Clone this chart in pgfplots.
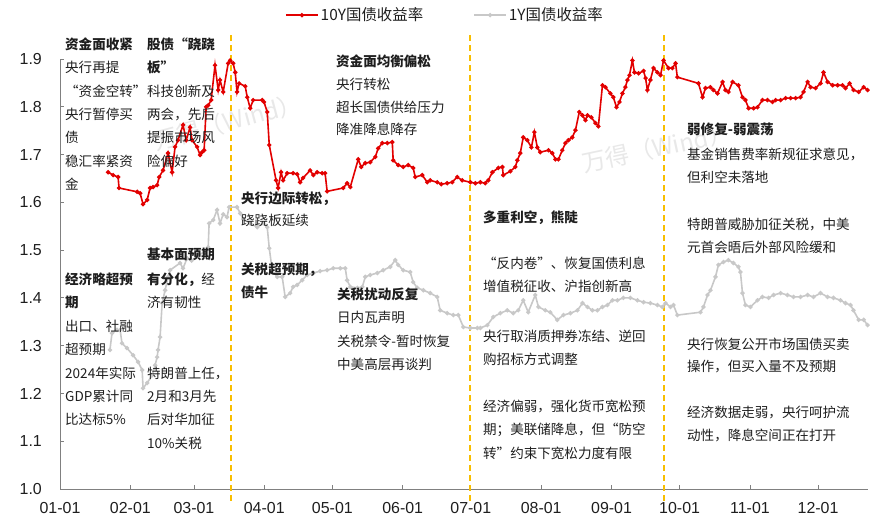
\documentclass[border=0pt]{standalone}
\usepackage{fontspec}
\setmainfont{Noto Sans CJK SC}
\newfontfamily\arial{Liberation Sans}
\usepackage{pgfplots}
\pgfplotsset{compat=1.18}

\definecolor{ten}{RGB}{226,0,0}
\definecolor{one}{RGB}{200,200,200}
\definecolor{dashc}{RGB}{248,190,0}
\definecolor{axgray}{RGB}{128,128,128}
\definecolor{txt}{RGB}{30,30,30}

\newcommand\af{\fontsize{13.6}{23.3}\selectfont}
% one line of annotation, x and vertical centre in image pixels
\newcommand\ann[3]{\node[anchor=base west, inner sep=0pt, text=txt, font=\af] at (#1,#2+5) {#3};}

\begin{document}
\begin{tikzpicture}
\path[use as bounding box] (0,0) rectangle (879bp,519bp);

% watermark
\begin{scope}[shift={(0,519bp)}, x=1bp, y=-1bp]
\node[rotate=15, text=black!9, font=\fontsize{24}{24}\selectfont] at (228,122) {万得（Wind）};
\node[rotate=12, text=black!9, font=\fontsize{24}{24}\selectfont] at (657,148) {万得（Wind）};
\end{scope}

\begin{axis}[
  at={(60bp,30bp)}, anchor=south west,
  width=808bp, height=430bp, scale only axis,
  xmin=0, xmax=356, ymin=1.0, ymax=1.9,
  axis x line*=bottom, axis y line*=left,
  axis line style={axgray, line width=0.8bp, -},
  xtick={0,31,59,90,120,151,181,212,243,273,304,334},
  xticklabels={01-01,02-01,03-01,04-01,05-01,06-01,07-01,08-01,09-01,10-01,11-01,12-01},
  ytick={1.0,1.1,1.2,1.3,1.4,1.5,1.6,1.7,1.8,1.9},
  tick align=inside, major tick length=4bp,
  tick style={axgray, line width=0.8bp},
  /pgf/number format/assume math mode=true,
  tick label style={font=\arial\fontsize{16}{18}\selectfont, text=txt},
  yticklabel style={/pgf/number format/fixed, /pgf/number format/fixed zerofill, /pgf/number format/precision=1},
  yticklabel style={inner sep=0pt, anchor=east, xshift=-18bp},
  xticklabel style={inner sep=0pt, anchor=north, yshift=-13bp},
  clip=false,
  legend style={at={(0.4765,1.102)}, anchor=center, draw=none, fill=none,
    font=\fontsize{15.5}{18}\selectfont, text=txt,
    nodes={inner sep=2bp},
    /tikz/every even column/.append style={column sep=48bp}},
  legend columns=2,
  legend image code/.code={\draw[mark repeat=2, mark phase=2, #1] plot coordinates {(0bp,0bp) (16bp,0bp) (32bp,0bp)};},
]

% period boundaries
\addplot[forget plot, no marks, draw=dashc, line width=2bp, dash pattern=on 6bp off 4bp] coordinates {(75.34,0.975) (75.34,1.955)};
\addplot[forget plot, no marks, draw=dashc, line width=2bp, dash pattern=on 6bp off 4bp] coordinates {(180.64,0.975) (180.64,1.955)};
\addplot[forget plot, no marks, draw=dashc, line width=2bp, dash pattern=on 6bp off 4bp] coordinates {(266.12,0.975) (266.12,1.955)};

\addplot[ten, line width=1.6bp, mark=*, mark size=1.3bp] coordinates {
(21.2,1.663) (23.4,1.657) (25.6,1.653) (26.0,1.630) (34.0,1.622) (35.3,1.619)
(36.6,1.596) (38.4,1.605) (39.7,1.630) (41.0,1.632) (42.8,1.636) (43.7,1.653)
(45.4,1.667) (47.6,1.703) (49.4,1.663) (50.7,1.716) (52.0,1.730) (54.2,1.762)
(55.6,1.730) (57.3,1.757) (58.2,1.730) (60.4,1.716) (61.7,1.699) (62.6,1.705)
(63.5,1.709) (64.4,1.800) (65.3,1.803) (66.6,1.814) (68.3,1.887) (69.7,1.835)
(70.5,1.856) (71.9,1.831) (74.1,1.891) (75.0,1.897) (76.3,1.891) (77.2,1.872)
(78.0,1.831) (78.9,1.849) (81.6,1.843) (82.5,1.820) (83.8,1.797) (85.1,1.814)
(89.1,1.814) (89.9,1.810) (91.3,1.789) (92.2,1.720) (95.2,1.646) (96.1,1.630)
(97.4,1.663) (98.3,1.646) (100.1,1.661) (102.7,1.661) (104.5,1.659) (105.8,1.642)
(107.1,1.651) (110.2,1.667) (111.6,1.657) (113.3,1.663) (115.5,1.661) (116.8,1.661)
(117.7,1.623) (124.8,1.630) (126.5,1.640) (127.9,1.632) (131.4,1.690) (132.7,1.674)
(134.5,1.682) (136.7,1.684) (138.9,1.695) (140.2,1.713) (142.0,1.724) (144.2,1.724)
(146.4,1.726) (146.8,1.688) (149.0,1.678) (151.2,1.674) (153.4,1.678) (155.6,1.672)
(156.5,1.653) (159.6,1.657) (161.8,1.642) (163.1,1.646) (166.2,1.642) (168.0,1.638)
(170.6,1.640) (172.8,1.642) (175.0,1.653) (177.2,1.646) (180.8,1.642) (183.0,1.640)
(185.2,1.642) (187.4,1.640) (188.7,1.646) (190.5,1.663) (193.1,1.672) (194.9,1.674)
(195.3,1.657) (198.4,1.665) (200.6,1.674) (201.5,1.688) (202.8,1.703) (204.1,1.736)
(205.9,1.730) (207.7,1.715) (209.0,1.747) (210.3,1.715) (211.6,1.705) (215.2,1.709)
(216.9,1.703) (218.3,1.690) (219.6,1.690) (221.3,1.709) (222.7,1.724) (224.0,1.730)
(225.7,1.736) (227.1,1.751) (228.8,1.789) (230.2,1.782) (231.5,1.772) (232.4,1.782)
(234.1,1.778) (235.9,1.766) (237.2,1.759) (239.0,1.845) (240.3,1.841) (242.5,1.828)
(243.8,1.820) (245.2,1.799) (246.5,1.810) (247.8,1.828) (249.1,1.841) (250.0,1.856)
(250.9,1.866) (252.2,1.897) (253.1,1.872) (254.9,1.870) (257.1,1.875) (258.0,1.860)
(258.8,1.835) (260.1,1.856) (261.5,1.881) (263.2,1.872) (264.6,1.866) (265.9,1.897)
(268.1,1.881) (269.8,1.881) (271.2,1.891) (272.0,1.862) (281.3,1.849) (283.1,1.820)
(284.4,1.839) (286.6,1.841) (287.9,1.835) (289.7,1.828) (291.9,1.852) (293.2,1.835)
(294.5,1.831) (296.3,1.852) (298.9,1.845) (300.7,1.820) (302.0,1.814) (303.4,1.797)
(305.6,1.797) (307.3,1.799) (309.5,1.814) (311.7,1.814) (313.9,1.810) (315.3,1.814)
(317.5,1.814) (319.7,1.818) (321.9,1.818) (324.1,1.818) (326.3,1.820) (327.6,1.831)
(329.4,1.852) (330.7,1.841) (332.9,1.839) (335.1,1.849) (336.4,1.872) (338.2,1.852)
(340.4,1.845) (342.6,1.845) (344.8,1.845) (346.1,1.839) (347.9,1.849) (349.6,1.835)
(351.9,1.831) (354.1,1.841) (355.8,1.835)
};
\addlegendentry{10Y国债收益率}

\addplot[one, line width=1.6bp, mark=*, mark size=1.3bp] coordinates {
(22.0,1.291) (22.9,1.326) (25.1,1.333) (26.5,1.333) (27.3,1.305) (29.5,1.295)
(32.2,1.280) (34.4,1.266) (36.2,1.249) (36.6,1.211) (38.4,1.222) (40.6,1.238)
(41.9,1.259) (42.8,1.276) (43.2,1.291) (44.1,1.318) (45.0,1.389) (46.3,1.416)
(47.6,1.444) (48.5,1.458) (52.9,1.473) (54.2,1.462) (56.0,1.483) (58.0,1.478)
(61.0,1.490) (63.5,1.495) (65.3,1.506) (65.7,1.556) (67.5,1.563) (69.2,1.584)
(70.5,1.556) (71.9,1.575) (73.6,1.569) (74.5,1.590) (78.0,1.590) (79.4,1.577)
(80.7,1.565) (83.8,1.556) (86.9,1.548) (89.5,1.556) (91.3,1.548) (92.2,1.504)
(93.5,1.458) (95.7,1.444) (97.9,1.444) (99.2,1.402) (101.4,1.410) (102.7,1.423)
(104.5,1.427) (106.7,1.437) (108.9,1.448) (111.6,1.452) (114.6,1.456) (117.7,1.458)
(120.4,1.462) (123.5,1.462) (125.7,1.462) (126.5,1.437) (127.9,1.423) (131.0,1.421)
(133.2,1.423) (134.5,1.444) (136.7,1.448) (139.8,1.452) (142.4,1.458) (145.5,1.465)
(147.7,1.479) (149.0,1.469) (151.2,1.458) (154.3,1.454) (155.6,1.433) (157.4,1.421)
(160.1,1.416) (163.1,1.410) (166.2,1.402) (167.5,1.374) (170.6,1.368) (173.3,1.364)
(175.5,1.364) (177.7,1.339) (180.8,1.337) (183.9,1.337) (185.2,1.337) (188.3,1.343)
(190.9,1.360) (194.0,1.368) (197.1,1.374) (199.7,1.368) (201.9,1.374) (204.1,1.395)
(206.3,1.370) (209.4,1.406) (210.8,1.381) (213.8,1.374) (216.0,1.370) (219.1,1.354)
(221.8,1.364) (224.9,1.368) (228.0,1.374) (230.2,1.389) (232.4,1.381) (234.6,1.374)
(236.8,1.374) (239.0,1.381) (241.2,1.385) (243.4,1.395) (245.6,1.395) (248.2,1.400)
(251.3,1.400) (254.4,1.395) (257.1,1.391) (260.1,1.389) (263.2,1.385) (265.4,1.381)
(266.8,1.389) (269.0,1.381) (270.3,1.385) (272.0,1.364) (282.2,1.370) (283.5,1.381)
(285.3,1.406) (286.6,1.416) (288.8,1.444) (290.1,1.469) (292.3,1.475) (294.5,1.479)
(296.7,1.473) (298.9,1.465) (299.8,1.454) (300.7,1.410) (302.0,1.385) (304.2,1.381)
(307.3,1.395) (309.5,1.402) (312.2,1.400) (314.4,1.406) (317.5,1.410) (320.5,1.406)
(323.2,1.402) (326.3,1.402) (329.4,1.406) (332.0,1.402) (335.1,1.410) (338.2,1.402)
(340.8,1.400) (343.9,1.395) (346.1,1.389) (348.3,1.385) (349.6,1.374) (351.9,1.354)
(354.1,1.354) (355.8,1.343)
};
\addlegendentry{1Y国债收益率}
\end{axis}

% annotations, positioned in image pixels
\begin{scope}[shift={(0,519bp)}, x=1bp, y=-1bp]
\ann{65}{45}{\bfseries 资金面收紧}
\ann{65}{68}{央行再提}
\ann{65}{92}{“资金空转”}
\ann{65}{115}{央行暂停买}
\ann{65}{138}{债}
\ann{65}{162}{稳汇率紧资}
\ann{65}{185}{金}

\ann{147}{45}{\bfseries 股债“跷跷}
\ann{147}{68}{\bfseries 板”}
\ann{147}{92}{科技创新及}
\ann{147}{115}{两会，先后}
\ann{147}{138}{提振市场风}
\ann{147}{162}{险偏好}

\ann{241}{199}{\bfseries 央行边际转松，}
\ann{241}{221}{跷跷板延续}
\ann{241}{270}{\bfseries 关税超预期，}
\ann{241}{293}{\bfseries 债牛}

\ann{336}{62}{\bfseries 资金面均衡偏松}
\ann{336}{85}{央行转松}
\ann{336}{108}{超长国债供给压力}
\ann{336}{130}{降准降息降存}

\ann{337}{295}{\bfseries 关税扰动反复}
\ann{337}{318}{日内瓦声明}
\ann{337}{342}{关税禁令-暂时恢复}
\ann{337}{365}{中美高层再谈判}

\ann{65}{280}{\bfseries 经济略超预}
\ann{65}{303}{\bfseries 期}
\ann{65}{327}{出口、社融}
\ann{65}{350}{超预期}
\ann{65}{374}{2024年实际}
\ann{65}{397}{GDP累计同}
\ann{65}{420}{比达标5\%}

\ann{147}{255}{\bfseries 基本面预期}
\ann{147}{280}{{\bfseries 有分化，}经}
\ann{147}{303}{济有韧性}
\ann{147}{374}{特朗普上任，}
\ann{147}{397}{2月和3月先}
\ann{147}{420}{后对华加征}
\ann{147}{444}{10\%关税}

\ann{483}{218}{\bfseries 多重利空，熊陡}
\ann{483}{264}{“反内卷”、恢复国债利息}
\ann{483}{287}{增值税征收、沪指创新高}
\ann{483}{337}{央行取消质押券冻结、逆回}
\ann{483}{360}{购招标方式调整}
\ann{483}{407}{经济偏弱，强化货币宽松预}
\ann{483}{430}{期；美联储降息，但“防空}
\ann{483}{454}{转”约束下宽松力度有限}

\ann{687}{130}{\bfseries 弱修复-弱震荡}
\ann{687}{155}{基金销售费率新规征求意见，}
\ann{687}{178}{但利空未落地}
\ann{687}{225}{特朗普威胁加征关税，中美}
\ann{687}{248}{元首会晤后外部风险缓和}
\ann{687}{345}{央行恢复公开市场国债买卖}
\ann{687}{367}{操作，但买入量不及预期}
\ann{687}{413}{经济数据走弱，央行呵护流}
\ann{687}{436}{动性，降息空间正在打开}
\end{scope}
\end{tikzpicture}
\end{document}
